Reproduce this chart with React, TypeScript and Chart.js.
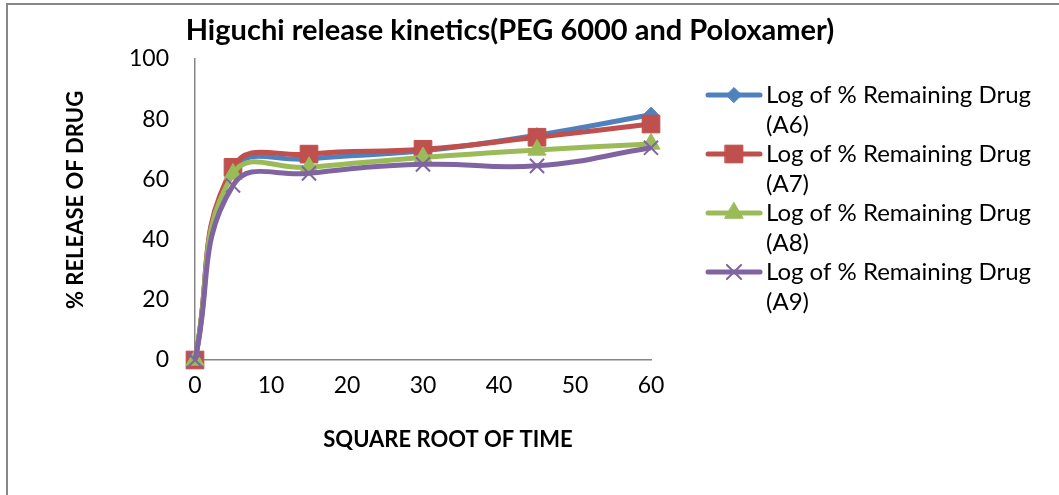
import React, { useEffect, useRef } from 'react';
import { Chart, registerables } from 'chart.js';
import { drawPoint } from 'chart.js/helpers';

Chart.register(...registerables);

// Square root of time values (x) and % release for each formulation
const timePoints = [0, 5, 15, 30, 45, 60];
const releaseA6 = [0, 63, 66.8, 69.5, 74.7, 81.5];
const releaseA7 = [0, 64, 68.4, 70, 74, 78.4];
const releaseA8 = [0, 61.8, 64, 67.3, 69.8, 71.8];
const releaseA9 = [0, 58, 62, 65, 64.5, 70.5];

const seriesNames = [
  'Log of % Remaining Drug (A6)',
  'Log of % Remaining Drug (A7)',
  'Log of % Remaining Drug (A8)',
  'Log of % Remaining Drug (A9)',
];
const seriesColors = ['#4F81BD', '#C0504D', '#9BBB59', '#8064A2'];
const seriesMarkers = ['rectRot', 'rect', 'triangle', 'crossRot'];
const markerRadii = [7.5, 12.5, 10.5, 10];

const xTicks = [0, 10, 20, 30, 40, 50, 60];
const yTicks = [0, 20, 40, 60, 80, 100];

const chartTitle = 'Higuchi release kinetics(PEG 6000 and Poloxamer)';
const xTitle = 'SQUARE ROOT OF TIME';
const yTitle = '% RELEASE OF DRUG';

const FONT = 'Lato, "Open Sans", "DejaVu Sans", sans-serif';

const allSeries = [releaseA6, releaseA7, releaseA8, releaseA9];

const overlayPlugin = {
  id: 'overlay',
  afterDraw(chart: any) {
    const ctx = chart.ctx as CanvasRenderingContext2D;
    ctx.save();

    // frame edges
    ctx.strokeStyle = '#878787';
    ctx.lineWidth = 2;
    ctx.beginPath();
    ctx.moveTo(7, 495);
    ctx.lineTo(7, 4);
    ctx.lineTo(1059, 4);
    ctx.stroke();

    // main title
    ctx.fillStyle = '#000';
    ctx.textAlign = 'center';
    ctx.textBaseline = 'middle';
    ctx.font = `bold 29px ${FONT}`;
    ctx.fillText(chartTitle, 510, 31);

    // axis titles
    ctx.font = `bold 22px ${FONT}`;
    ctx.fillText(xTitle, 448, 440);
    ctx.save();
    ctx.translate(76, 200);
    ctx.rotate(-Math.PI / 2);
    ctx.fillText(yTitle, 0, 0);
    ctx.restore();

    // legend
    ctx.textAlign = 'left';
    ctx.font = `24px ${FONT}`;
    chart.data.datasets.forEach((ds: any, i: number) => {
      const cy = 95 + i * 59;
      ctx.strokeStyle = ds.borderColor;
      ctx.lineWidth = 5;
      ctx.lineCap = 'round';
      ctx.beginPath();
      ctx.moveTo(708, cy);
      ctx.lineTo(760, cy);
      ctx.stroke();
      ctx.fillStyle = ds.pointBackgroundColor;
      ctx.strokeStyle = ds.pointBorderColor;
      ctx.lineWidth = ds.pointBorderWidth;
      drawPoint(ctx, { pointStyle: ds.pointStyle, radius: ds.pointRadius, rotation: 0, borderWidth: ds.pointBorderWidth }, 734, cy);
      const name: string = ds.label;
      const cut = name.lastIndexOf(' ');
      ctx.fillStyle = '#000';
      ctx.fillText(name.slice(0, cut), 766, cy);
      ctx.fillText(name.slice(cut + 1), 766, cy + 30);
    });

    ctx.restore();
  },
};

export default function App() {
  const canvasRef = useRef<HTMLCanvasElement | null>(null);

  useEffect(() => {
    const canvas = canvasRef.current;
    if (!canvas) return;

    const datasets = allSeries.map((values, i) => ({
      label: seriesNames[i],
      data: timePoints.map((t, j) => ({ x: t, y: values[j] })),
      borderColor: seriesColors[i],
      backgroundColor: seriesColors[i],
      borderWidth: 5,
      tension: 0.45,
      pointStyle: seriesMarkers[i],
      pointRadius: markerRadii[i],
      pointBackgroundColor: seriesColors[i],
      pointBorderColor: seriesColors[i],
      pointBorderWidth: seriesMarkers[i] === 'crossRot' ? 2 : 1,
      showLine: true,
      clip: false as any,
      order: 3 - i,
    }));

    const chart = new Chart(canvas, {
      type: 'scatter',
      data: { datasets },
      options: {
        responsive: true,
        maintainAspectRatio: false,
        animation: false,
        layout: { padding: { top: 59, right: 408, left: 0, bottom: 0 } },
        plugins: {
          legend: { display: false },
          title: { display: false },
          tooltip: { enabled: false },
        },
        scales: {
          x: {
            type: 'linear',
            min: xTicks[0],
            max: xTicks[xTicks.length - 1],
            afterBuildTicks: (scale: any) => {
              scale.ticks = xTicks.map((v) => ({ value: v }));
            },
            afterFit: (scale: any) => {
              scale.height = 135;
            },
            grid: { display: false, drawTicks: false },
            border: { display: true, color: '#868686', width: 1.5 },
            ticks: {
              color: '#000',
              padding: 12,
              maxRotation: 0,
              font: { family: FONT, size: 23 },
            },
          },
          y: {
            type: 'linear',
            min: yTicks[0],
            max: yTicks[yTicks.length - 1],
            afterBuildTicks: (scale: any) => {
              scale.ticks = yTicks.map((v) => ({ value: v }));
            },
            afterFit: (scale: any) => {
              scale.width = 195;
            },
            grid: { display: false, drawTicks: false },
            border: { display: true, color: '#868686', width: 1.5 },
            ticks: {
              color: '#000',
              padding: 26,
              font: { family: FONT, size: 23 },
            },
          },
        },
      },
      plugins: [overlayPlugin],
    });

    return () => chart.destroy();
  }, []);

  return (
    <div
      style={{
        position: 'fixed',
        left: 0,
        top: 0,
        width: 1059,
        height: 495,
        background: '#fff',
      }}
    >
      <canvas ref={canvasRef} />
    </div>
  );
}
